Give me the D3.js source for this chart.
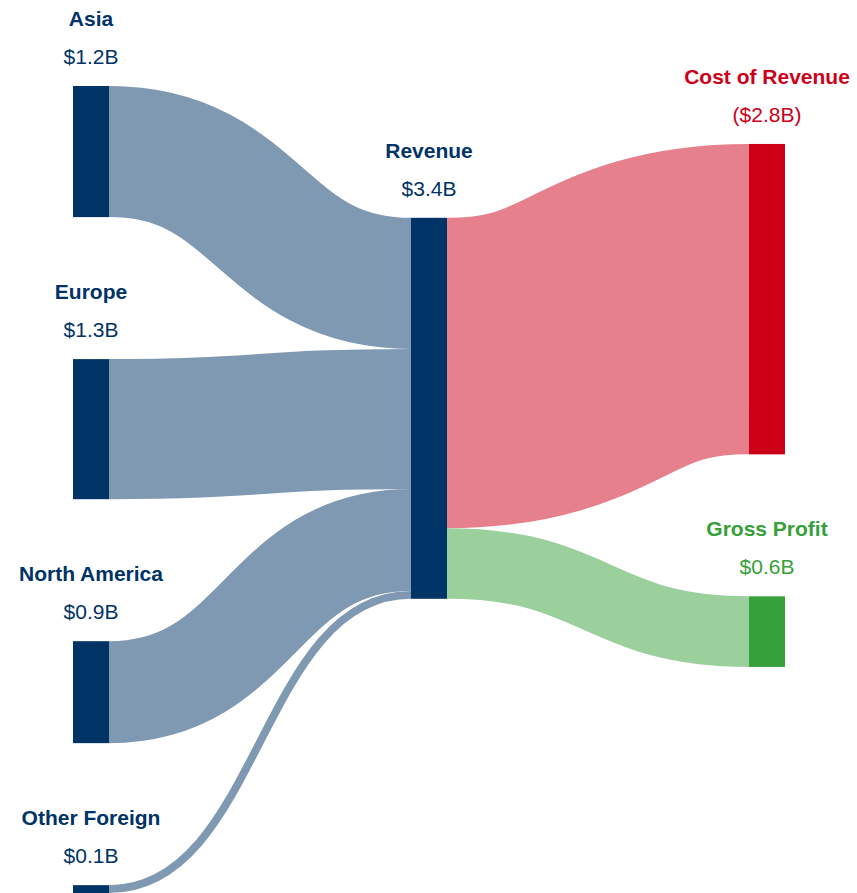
<!DOCTYPE html>
<html>
<head>
<meta charset="utf-8">
<script src="https://cdn.jsdelivr.net/npm/d3@7"></script>
<style>
  body { margin: 0; background: #fff; }
  svg { display: block; font-family: "Liberation Sans", Arial, Helvetica, sans-serif; }
</style>
</head>
<body>
<svg id="chart" width="857" height="893"></svg>
<script>
// --- data (billions of USD) ---
const nodeNames = ["Asia", "Europe", "North America", "Other Foreign", "Revenue", "Cost of Revenue", "Gross Profit"];
const nodeKinds = ["income", "income", "income", "income", "income", "cost", "profit"];
const linkSources = ["Asia", "Europe", "North America", "Other Foreign", "Revenue", "Revenue"];
const linkTargets = ["Revenue", "Revenue", "Revenue", "Revenue", "Cost of Revenue", "Gross Profit"];
const linkValues = [1.17, 1.25, 0.91, 0.07, 2.77, 0.63];

const width = 857, height = 893;
const margin = { top: 86, right: 72, bottom: 0, left: 73 };
const nodeWidth = 36;
const py = 142;
const iterations = 6;
const x0 = margin.left, x1 = width - margin.right;
const y0 = margin.top, y1 = height - margin.bottom;

const color = d3.scaleOrdinal()
    .domain(["income", "cost", "profit"])
    .range(["#003366", "#cc0019", "#36a03a"]);

// build graph
const nodes = nodeNames.map((name, i) => ({ name, kind: nodeKinds[i], sourceLinks: [], targetLinks: [] }));
const byName = new Map(nodes.map(n => [n.name, n]));
const links = linkValues.map((value, i) => ({
    source: byName.get(linkSources[i]),
    target: byName.get(linkTargets[i]),
    value
}));
for (const l of links) {
    l.source.sourceLinks.push(l);
    l.target.targetLinks.push(l);
}
for (const n of nodes) {
    n.value = Math.max(d3.sum(n.sourceLinks, l => l.value), d3.sum(n.targetLinks, l => l.value));
}

// depths / layers (justified)
let current = new Set(nodes), next = new Set(), depth = 0;
while (current.size) {
    for (const node of current) {
        node.depth = depth;
        for (const { target } of node.sourceLinks) next.add(target);
    }
    ++depth;
    current = next;
    next = new Set();
}
const maxLayer = depth - 1;
for (const n of nodes) n.layer = n.sourceLinks.length ? n.depth : maxLayer;

const x = d3.scaleLinear().domain([0, maxLayer]).range([x0, x1 - nodeWidth]);
const columns = d3.range(maxLayer + 1).map(() => []);
for (const n of nodes) {
    n.x0 = x(n.layer);
    n.x1 = n.x0 + nodeWidth;
    columns[n.layer].push(n);
}

// vertical layout, same steps as d3-sankey
function ascendingBreadth(a, b) { return a.y0 - b.y0; }
function ascSourceBreadth(a, b) { return ascendingBreadth(a.source, b.source); }
function ascTargetBreadth(a, b) { return ascendingBreadth(a.target, b.target); }

function reorderLinks(list) {
    for (const { sourceLinks, targetLinks } of list) {
        sourceLinks.sort(ascTargetBreadth);
        targetLinks.sort(ascSourceBreadth);
    }
}
function reorderNodeLinks({ sourceLinks, targetLinks }) {
    for (const { source: { sourceLinks } } of targetLinks) sourceLinks.sort(ascTargetBreadth);
    for (const { target: { targetLinks } } of sourceLinks) targetLinks.sort(ascSourceBreadth);
}

function targetTop(source, target) {
    let y = source.y0 - (source.sourceLinks.length - 1) * py / 2;
    for (const { target: node, width } of source.sourceLinks) {
        if (node === target) break;
        y += width + py;
    }
    for (const { source: node, width } of target.targetLinks) {
        if (node === source) break;
        y -= width;
    }
    return y;
}
function sourceTop(source, target) {
    let y = target.y0 - (target.targetLinks.length - 1) * py / 2;
    for (const { source: node, width } of target.targetLinks) {
        if (node === source) break;
        y += width + py;
    }
    for (const { target: node, width } of source.sourceLinks) {
        if (node === target) break;
        y -= width;
    }
    return y;
}

function collideTopToBottom(list, y, i, alpha) {
    for (; i < list.length; ++i) {
        const node = list[i];
        const dy = (y - node.y0) * alpha;
        if (dy > 1e-6) { node.y0 += dy; node.y1 += dy; }
        y = node.y1 + py;
    }
}
function collideBottomToTop(list, y, i, alpha) {
    for (; i >= 0; --i) {
        const node = list[i];
        const dy = (node.y1 - y) * alpha;
        if (dy > 1e-6) { node.y0 -= dy; node.y1 -= dy; }
        y = node.y0 - py;
    }
}
function resolveCollisions(list, alpha) {
    const i = list.length >> 1;
    const subject = list[i];
    collideBottomToTop(list, subject.y0 - py, i - 1, alpha);
    collideTopToBottom(list, subject.y1 + py, i + 1, alpha);
    collideBottomToTop(list, y1, list.length - 1, alpha);
    collideTopToBottom(list, y0, 0, alpha);
}

function relaxLeftToRight(alpha, beta) {
    for (let i = 1; i < columns.length; ++i) {
        for (const target of columns[i]) {
            let y = 0, w = 0;
            for (const { source, value } of target.targetLinks) {
                const v = value * (target.layer - source.layer);
                y += targetTop(source, target) * v;
                w += v;
            }
            if (!(w > 0)) continue;
            const dy = (y / w - target.y0) * alpha;
            target.y0 += dy;
            target.y1 += dy;
            reorderNodeLinks(target);
        }
        columns[i].sort(ascendingBreadth);
        resolveCollisions(columns[i], beta);
    }
}
function relaxRightToLeft(alpha, beta) {
    for (let i = columns.length - 2; i >= 0; --i) {
        for (const source of columns[i]) {
            let y = 0, w = 0;
            for (const { target, value } of source.sourceLinks) {
                const v = value * (target.layer - source.layer);
                y += sourceTop(source, target) * v;
                w += v;
            }
            if (!(w > 0)) continue;
            const dy = (y / w - source.y0) * alpha;
            source.y0 += dy;
            source.y1 += dy;
            reorderNodeLinks(source);
        }
        columns[i].sort(ascendingBreadth);
        resolveCollisions(columns[i], beta);
    }
}

// initial breadths
const ky = d3.min(columns, c => (y1 - y0 - (c.length - 1) * py) / d3.sum(c, n => n.value));
for (const col of columns) {
    let y = y0;
    for (const node of col) {
        node.y0 = y;
        node.y1 = y + node.value * ky;
        y = node.y1 + py;
        for (const link of node.sourceLinks) link.width = link.value * ky;
    }
    y = (y1 - y + py) / (col.length + 1);
    col.forEach((node, i) => { node.y0 += y * (i + 1); node.y1 += y * (i + 1); });
    reorderLinks(col);
}
for (let i = 0; i < iterations; ++i) {
    const alpha = Math.pow(0.99, i);
    const beta = Math.max(1 - alpha, (i + 1) / iterations);
    relaxRightToLeft(alpha, beta);
    relaxLeftToRight(alpha, beta);
}
reorderLinks(nodes);
for (const node of nodes) {
    let ys = node.y0, yt = node.y0;
    for (const link of node.sourceLinks) { link.y0 = ys + link.width / 2; ys += link.width; }
    for (const link of node.targetLinks) { link.y1 = yt + link.width / 2; yt += link.width; }
}

// --- draw ---
const svg = d3.select("#chart");
const fade = c => d3.interpolateRgb(c, "#ffffff")(0.5);

svg.append("g")
    .attr("fill", "none")
    .selectAll("path")
    .data(links)
    .enter().append("path")
    .attr("d", d3.linkHorizontal()
        .source(d => [d.source.x1, d.y0])
        .target(d => [d.target.x0, d.y1]))
    .attr("stroke", d => fade(color(d.target.kind === "income" ? d.source.kind : d.target.kind)))
    .attr("stroke-width", d => Math.max(1, d.width));

svg.append("g")
    .selectAll("rect")
    .data(nodes)
    .enter().append("rect")
    .attr("x", d => d.x0)
    .attr("y", d => d.y0)
    .attr("width", d => d.x1 - d.x0)
    .attr("height", d => d.y1 - d.y0)
    .attr("fill", d => color(d.kind));

const money = d => {
    const s = "$" + d.value.toFixed(1) + "B";
    return d.kind === "cost" ? "(" + s + ")" : s;
};

const labels = svg.append("g")
    .selectAll("g")
    .data(nodes)
    .enter().append("g")
    .attr("transform", d => `translate(${(d.x0 + d.x1) / 2},${d.y0})`)
    .style("fill", d => color(d.kind))
    .attr("text-anchor", "middle")
    .attr("font-size", 21);

labels.append("text")
    .attr("y", -60)
    .attr("font-weight", "bold")
    .text(d => d.name);

labels.append("text")
    .attr("y", -22)
    .text(money);
</script>
</body>
</html>
